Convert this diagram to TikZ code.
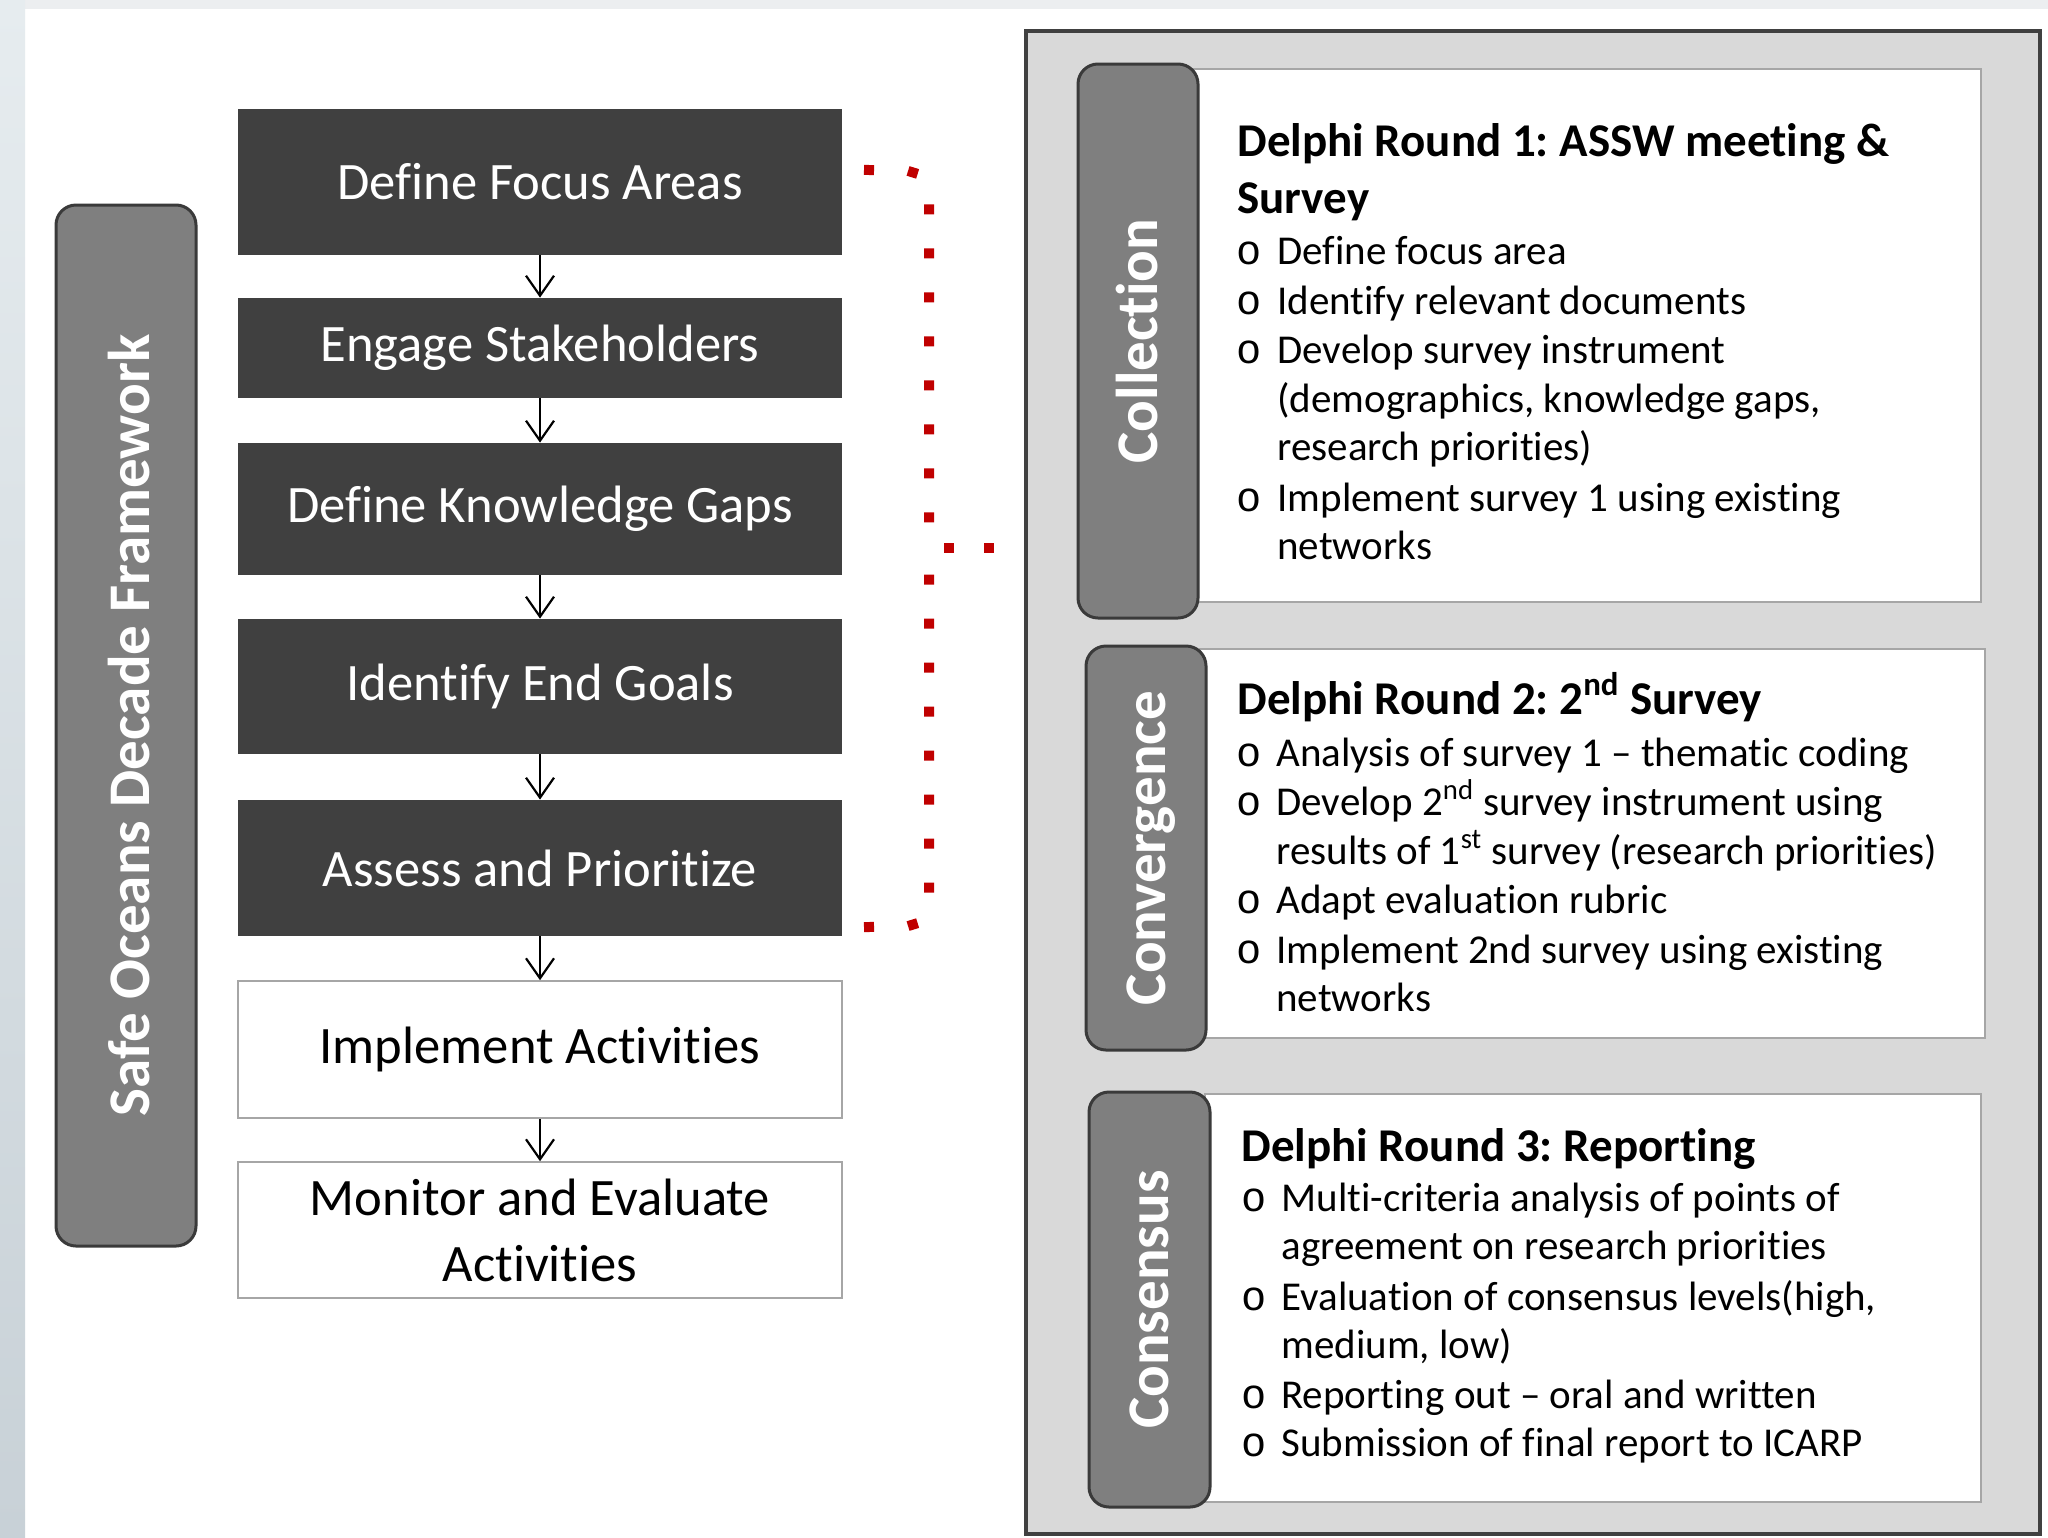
\documentclass[tikz,border=0pt]{standalone}
\usepackage{fontspec}
\setmainfont{Carlito}[Ligatures={NoCommon,NoContextual}, RawFeature={-liga;-clig;-dlig}]
\newfontfamily\bulfont{Liberation Mono}
\usetikzlibrary{arrows.meta}
\definecolor{darkbox}{HTML}{404040}
\definecolor{tabfill}{HTML}{7F7F7F}
\definecolor{tabline}{HTML}{3A3A3A}
\definecolor{panelgray}{HTML}{D9D9D9}
\definecolor{thinborder}{HTML}{A6A6A6}
\definecolor{dotred}{HTML}{C00000}
\definecolor{topstrip}{HTML}{ECEEF0}
\definecolor{icetop}{HTML}{E6ECEF}
\definecolor{icebot}{HTML}{C8D1D7}
\frenchspacing
\begin{document}
\begin{tikzpicture}[x=0.5pt,y=-0.5pt,
  darkstep/.style={draw=none, fill=darkbox, text=white, minimum width=302pt, inner sep=0pt, font=\fontsize{26.3}{33}\selectfont},
  lightstep/.style={draw=thinborder, line width=0.8pt, fill=white, text=black, minimum width=302pt, inner sep=0pt, align=center, font=\fontsize{26.3}{33}\selectfont},
  flowarrow/.style={draw=black, line width=1.1pt, -{Straight Barb[length=10pt,width=14pt,line width=1.1pt]}},
  tabbox/.style={draw=tabline, line width=1.5pt, fill=tabfill, rounded corners=10pt, inner sep=0pt},
  tablabel/.style={text=white, rotate=90, anchor=base, font=\fontsize{29.5}{34}\selectfont\bfseries, inner sep=0pt},
  panel/.style={draw=thinborder, line width=1pt, fill=white, inner sep=0pt},
  ptitle/.style={anchor=base west, inner sep=0pt, font=\fontsize{23.5}{26}\selectfont\bfseries},
  ptext/.style={anchor=base west, inner sep=0pt, font=\fontsize{20.5}{24.5}\selectfont},
  pbullet/.style={anchor=base west, inner sep=0pt, font=\bulfont\fontsize{21}{24}\selectfont},
  reddots/.style={draw=dotred, line width=5pt, line cap=rect, dash pattern=on 0.01pt off 21.99pt},
  tipdots/.style={draw=dotred, line width=5pt, line cap=rect, dash pattern=on 0.01pt off 19.99pt},
]
\useasboundingbox (0,0) rectangle (2048,1537);
\fill[white] (0,0) rectangle (2048,1537);
\fill[topstrip] (0,0) rectangle (2048,9);
\shade[top color=icetop, bottom color=icebot] (0,0) rectangle (25,1537);

% left framework tab
\node[tabbox, minimum width=70pt, minimum height=520.5pt] (sodtab) at (126,725.5) {};
\node[tablabel] (sodlabel) at (149,725.5) {Safe Oceans Decade Framework};

% flow boxes
\node[darkstep, minimum height=73pt] (b1) at (540,182) {Define Focus Areas};
\node[darkstep, minimum height=50pt] (b2) at (540,348) {Engage Stakeholders};
\node[darkstep, minimum height=66pt] (b3) at (540,509) {Define Knowledge Gaps};
\node[darkstep, minimum height=67.5pt] (b4) at (540,686.5) {Identify End Goals};
\node[darkstep, minimum height=68pt] (b5) at (540,868) {Assess and Prioritize};
\node[lightstep, minimum height=68.5pt] (b6) at (540,1049.5) {Implement Activities};
\node[lightstep, minimum height=68pt] (b7) at (540,1230) {Monitor and Evaluate\\Activities};

\draw[flowarrow] (b1) -- (b2);
\draw[flowarrow] (b2) -- (b3);
\draw[flowarrow] (b3) -- (b4);
\draw[flowarrow] (b4) -- (b5);
\draw[flowarrow] (b5) -- (b6);
\draw[flowarrow] (b6) -- (b7);

% red dotted brace
\coordinate (braceTop) at (869,170);
\coordinate (braceMid) at (949,548);
\coordinate (braceTip) at (990,548);
\coordinate (braceBot) at (869,927);
\draw[reddots] (braceTop) -- (905,171) .. controls (918.25,171) and (929,181.75) .. (929,195)
  -- (929,522);
\draw[tipdots] (braceMid) -- (braceTip);
\draw[reddots] (braceBot) -- (905,926) .. controls (918.25,926) and (929,915.25) .. (929,902)
  -- (929,570);

% right big box
\node[draw=darkbox, line width=2pt, fill=panelgray, minimum width=507pt, minimum height=751.5pt, inner sep=0pt] (bigbox) at (1533,782.5) {};

% panel 1
\node[panel, minimum width=393.5pt, minimum height=266.5pt] (w1) at (1587.5,335.5) {};
\node[tabbox, minimum width=60pt, minimum height=277pt] (t1) at (1138,341) {};
\node[tablabel] (l1) at (1157,341) {Collection};
\node[ptitle] (p1t1) at (1237,156) {Delphi Round 1: ASSW meeting \&};
\node[ptitle] (p1t2) at (1237,213) {Survey};
\node[pbullet] (p1b1) at (1236,264) {o};
\node[ptext] (p1a) at (1277,264) {Define focus area};
\node[pbullet] (p1b2) at (1236,314) {o};
\node[ptext] (p1b) at (1277,314) {Identify relevant documents};
\node[pbullet] (p1b3) at (1236,363) {o};
\node[ptext] (p1c) at (1277,363) {Develop survey instrument};
\node[ptext] (p1d) at (1277,412) {(demographics, knowledge gaps,};
\node[ptext] (p1e) at (1277,460) {research priorities)};
\node[pbullet] (p1b4) at (1236,511) {o};
\node[ptext] (p1f) at (1277,511) {Implement survey 1 using existing};
\node[ptext] (p1g) at (1277,559) {networks};

% panel 2
\node[panel, minimum width=392.5pt, minimum height=194.5pt] (w2) at (1592.5,843.5) {};
\node[tabbox, minimum width=60pt, minimum height=202pt] (t2) at (1146,848) {};
\node[tablabel] (l2) at (1165,848) {Convergence};
\node[ptitle] (p2t1) at (1237,714) {Delphi Round 2: 2\textsuperscript{nd} Survey};
\node[pbullet] (p2b1) at (1236,766) {o};
\node[ptext] (p2a) at (1276,766) {Analysis of survey 1 – thematic coding};
\node[pbullet] (p2b2) at (1236,815) {o};
\node[ptext] (p2b) at (1276,815) {Develop 2\textsuperscript{nd} survey instrument using};
\node[ptext] (p2c) at (1276,864) {results of 1\textsuperscript{st} survey (research priorities)};
\node[pbullet] (p2b3) at (1236,913) {o};
\node[ptext] (p2d) at (1276,913) {Adapt evaluation rubric};
\node[pbullet] (p2b4) at (1236,963) {o};
\node[ptext] (p2e) at (1276,963) {Implement 2nd survey using existing};
\node[ptext] (p2f) at (1276,1011) {networks};

% panel 3
\node[panel, minimum width=388pt, minimum height=204pt] (w3) at (1593,1298) {};
\node[tabbox, minimum width=60.5pt, minimum height=207.5pt] (t3) at (1149.5,1299.5) {};
\node[tablabel] (l3) at (1168,1299.5) {Consensus};
\node[ptitle] (p3t1) at (1241,1161) {Delphi Round 3: Reporting};
\node[pbullet] (p3b1) at (1241,1211) {o};
\node[ptext] (p3a) at (1281,1211) {Multi-criteria analysis of points of};
\node[ptext] (p3b) at (1281,1259) {agreement on research priorities};
\node[pbullet] (p3b2) at (1241,1310) {o};
\node[ptext] (p3c) at (1281,1310) {Evaluation of consensus levels(high,};
\node[ptext] (p3d) at (1281,1358) {medium, low)};
\node[pbullet] (p3b3) at (1241,1408) {o};
\node[ptext] (p3e) at (1281,1408) {Reporting out – oral and written};
\node[pbullet] (p3b4) at (1241,1456) {o};
\node[ptext] (p3f) at (1281,1456) {Submission of final report to ICARP};
\end{tikzpicture}
\end{document}
